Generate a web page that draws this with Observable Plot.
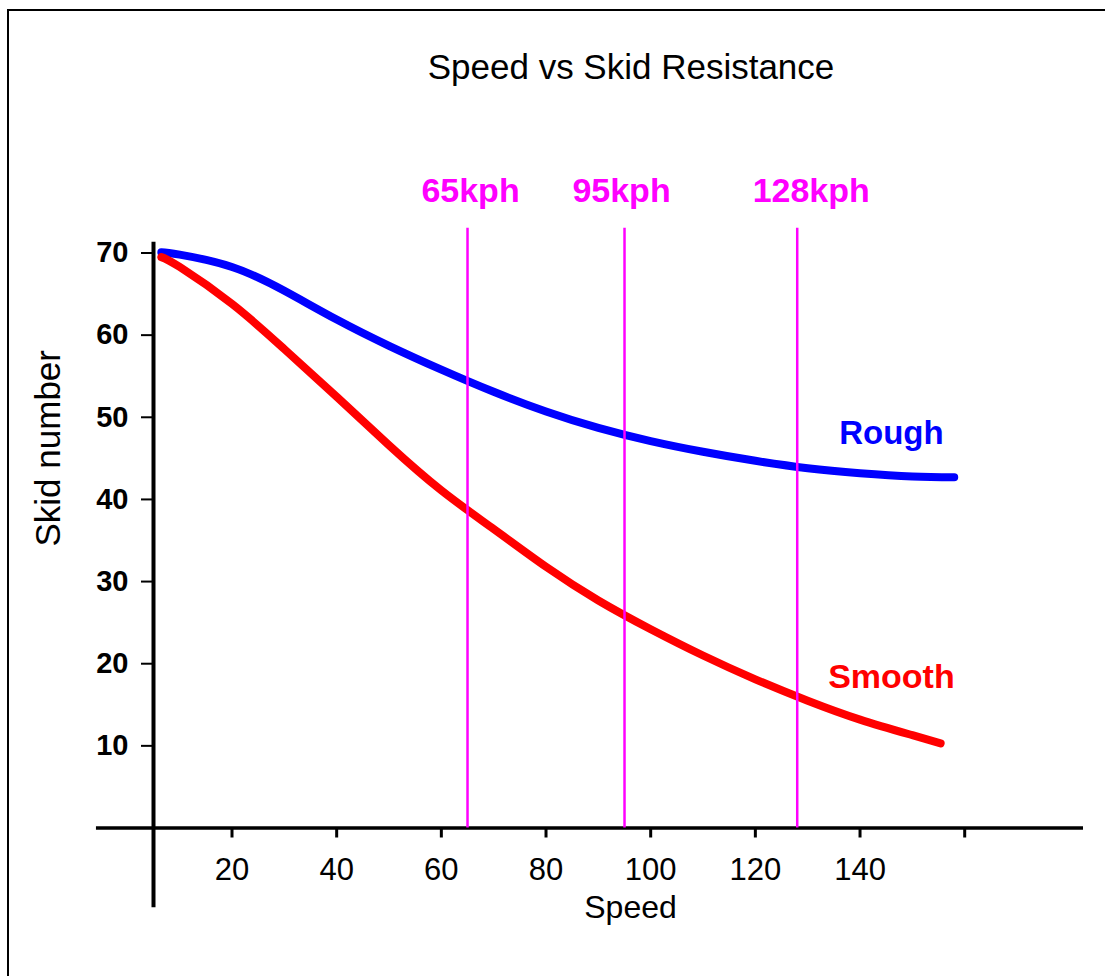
<!DOCTYPE html>
<html>
<head>
<meta charset="utf-8">
<script src="https://cdn.jsdelivr.net/npm/d3@7"></script>
<script src="https://cdn.jsdelivr.net/npm/@observablehq/plot@0.6"></script>
<style>
html, body { margin: 0; padding: 0; background: #fff; }
#wrap { position: relative; width: 1105px; height: 976px; overflow: hidden; font-family: "Liberation Sans", Arial, sans-serif; }
#frame { position: absolute; left: 7px; top: 9px; width: 1200px; height: 1200px; border-top: 2.5px solid #000; border-left: 2.5px solid #000; z-index: 2; pointer-events: none; }
#title { position: absolute; left: 631px; top: 49px; transform: translateX(-50%); font-size: 35px; line-height: 35px; white-space: nowrap; z-index: 2; color: #000; }
#chart { position: absolute; left: 0; top: 0; z-index: 1; }
</style>
</head>
<body>
<div id="wrap">
  <div id="frame"></div>
  <div id="title">Speed vs Skid Resistance</div>
  <div id="chart"></div>
</div>
<script>
// ---- data ----
const roughSpeed = [6.5, 10, 20, 30, 40, 50, 60, 70, 80, 90, 100, 110, 120, 130, 140, 150, 158];
const roughSkid  = [70.1, 69.8, 68.3, 65.4, 61.9, 58.7, 55.8, 53.1, 50.7, 48.7, 47.1, 45.8, 44.7, 43.8, 43.2, 42.8, 42.7];

const smoothSpeed = [6.5, 10, 20, 30, 40, 50, 60, 70, 80, 90, 100, 110, 120, 130, 140, 150, 155.4];
const smoothSkid  = [69.5, 68.3, 63.8, 58.3, 52.5, 46.6, 41.1, 36.4, 31.8, 27.7, 24.2, 21.0, 18.1, 15.5, 13.2, 11.3, 10.3];

const seriesNames = ["Rough", "Smooth"];

const speedMarks  = [65, 95, 128];
const speedLabels = ["65kph", "95kph", "128kph"];

const xTicks      = [20, 40, 60, 80, 100, 120, 140, 160];
const xTickLabels = ["20", "40", "60", "80", "100", "120", "140", ""];
const yTicks      = [10, 20, 30, 40, 50, 60, 70];

// ---- chart ----
const FONT = '"Liberation Sans", Arial, sans-serif';
const labelShift = [3, -3, 14]; // pixel nudges of the kph labels
const chart = Plot.plot({
  width: 1105,
  height: 976,
  marginLeft: 153,
  marginRight: 22,
  marginTop: 252.5,
  marginBottom: 148.5,
  x: { domain: [5, 182.7] },
  y: { domain: [0, 70] },
  style: { background: "transparent", overflow: "visible", fontFamily: FONT },
  marks: [
    // axis lines (cross-shaped)
    Plot.ruleY([0], { x1: -5.9, x2: 182.7, stroke: "#000", strokeWidth: 3.5 }),
    Plot.ruleX([5], { y1: -9.7, y2: 71.3, stroke: "#000", strokeWidth: 4 }),
    Plot.axisX({
      ticks: xTicks,
      tickFormat: d => xTickLabels[xTicks.indexOf(d)],
      tickSize: 10,
      tickPadding: 19.5,
      fontSize: 31,
      strokeWidth: 3,
      label: null
    }),
    Plot.axisY({
      ticks: yTicks,
      tickSize: 12,
      tickPadding: 13,
      fontSize: 29,
      fontWeight: "bold",
      strokeWidth: 2,
      label: null
    }),
    // axis titles
    Plot.text(["Skid number"], { frameAnchor: "left", dx: -105, dy: 6, rotate: -90, fontSize: 35, text: d => d }),
    Plot.text(["Speed"], { frameAnchor: "bottom", dx: 12, dy: 89.5, lineAnchor: "bottom", fontSize: 32, text: d => d }),
    // curves
    Plot.line(roughSkid, { x: roughSpeed, y: roughSkid, stroke: "#0000ff", strokeWidth: 8, curve: "natural", strokeLinecap: "round", strokeLinejoin: "round" }),
    Plot.line(smoothSkid, { x: smoothSpeed, y: smoothSkid, stroke: "#ff0000", strokeWidth: 8, curve: "natural", strokeLinecap: "round", strokeLinejoin: "round" }),
    // speed markers
    Plot.ruleX(speedMarks, { y1: 0, y2: 73, stroke: "#ff00ff", strokeWidth: 2.5 }),
    ...speedLabels.map((lab, i) =>
      Plot.text([lab], { x: [speedMarks[i]], y: 76.2, dx: labelShift[i], text: d => d, lineAnchor: "bottom", fill: "#ff00ff", fontSize: 34, fontWeight: "bold" })
    ),
    // series labels
    Plot.text([seriesNames[0]], { x: 146, y: 46.8, text: d => d, lineAnchor: "bottom", fill: "#0000ff", fontSize: 33, fontWeight: "bold" }),
    Plot.text([seriesNames[1]], { x: 146, y: 17.1, text: d => d, lineAnchor: "bottom", fill: "#ff0000", fontSize: 34, fontWeight: "bold" })
  ]
});
document.getElementById("chart").appendChild(chart);
</script>
</body>
</html>
